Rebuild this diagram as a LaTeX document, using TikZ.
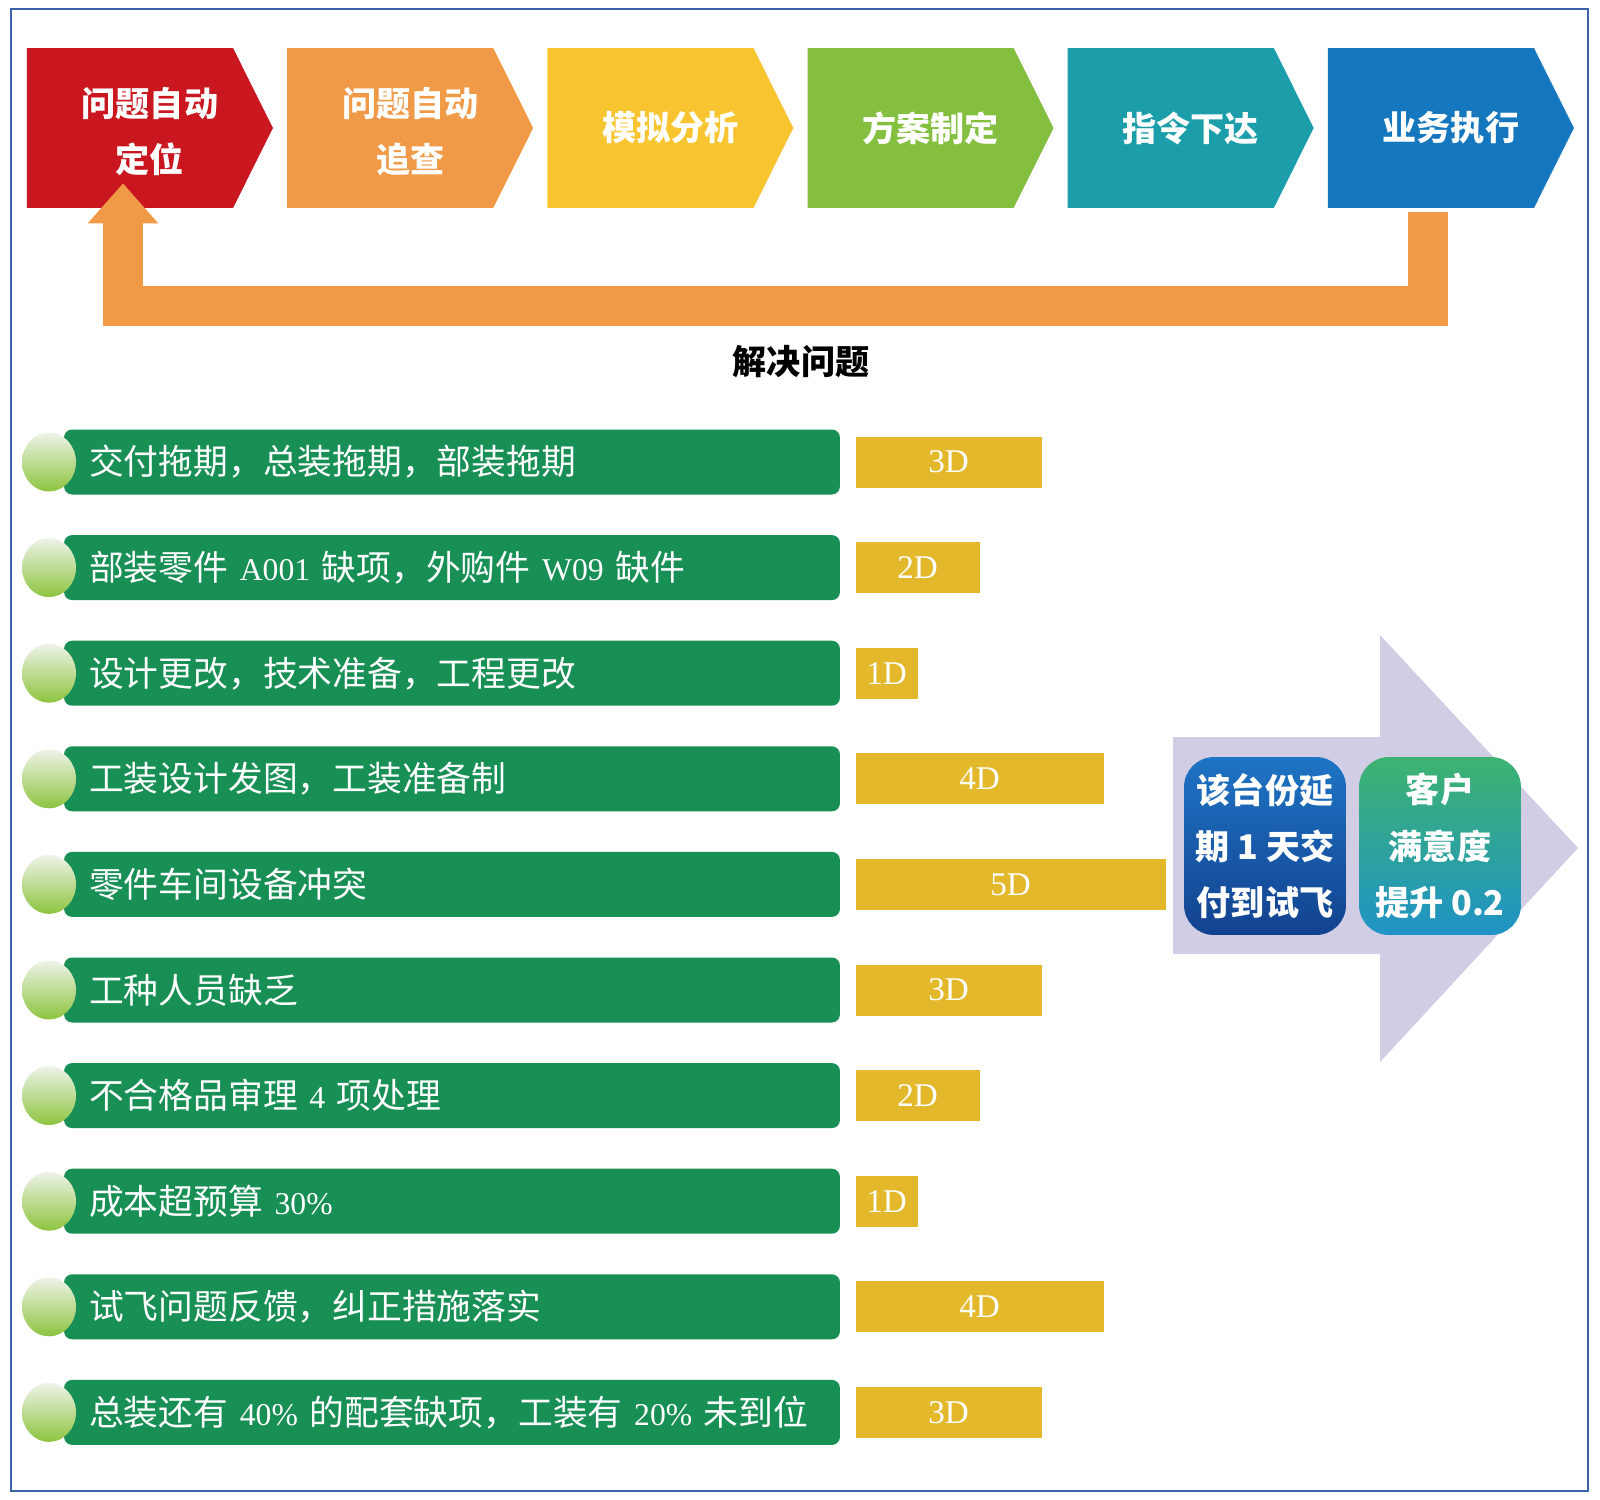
\documentclass[tikz,border=0pt]{standalone}
\usepackage{fontspec}
\newfontfamily\cjk{Noto Sans CJK SC}
\newfontfamily\latfont[Scale=0.82]{Liberation Serif}
\usetikzlibrary{positioning,shapes.symbols,shapes.geometric,arrows.meta}
\definecolor{stepRed}{HTML}{C9161F}
\definecolor{stepOrange}{HTML}{F09A48}
\definecolor{stepYellow}{HTML}{F8C530}
\definecolor{stepGreen}{HTML}{84BF40}
\definecolor{stepTeal}{HTML}{1C9EAA}
\definecolor{stepBlue}{HTML}{1577BE}
\definecolor{rowGreen}{HTML}{178F55}
\definecolor{dayGold}{HTML}{E3B92B}
\definecolor{lavender}{HTML}{D0CDE5}
\definecolor{frameBlue}{HTML}{3D62AA}
\definecolor{bulbTop}{HTML}{EEF3E8}
\definecolor{bulbBot}{HTML}{8DC43F}
\definecolor{delayTop}{HTML}{1E74C4}
\definecolor{delayBot}{HTML}{12428F}
\definecolor{gainTop}{HTML}{3DB370}
\definecolor{gainBot}{HTML}{1F93C6}
\newcommand{\lat}[1]{{\latfont\fontsize{22pt}{28pt}\selectfont #1}}

\begin{document}
\begin{tikzpicture}[
    x=0.02cm, y=-0.02cm,
    every node/.style={font=\cjk, inner sep=0pt},
    stage/.style={signal, signal to=east, signal pointer angle=127, fill=#1, draw=none,
      minimum width=4.92cm, minimum height=3.2cm},
    stagetext/.style={text=white, align=center, font={\cjk\bfseries\fontsize{19.4pt}{31.9pt}\selectfont}},
    bar/.style={fill=rowGreen, rounded corners=0.16cm, minimum width=15.52cm, minimum height=1.3cm,
      text width=14.52cm, inner xsep=0.5cm, align=left, text=white,
      font={\cjk\fontsize{19.8pt}{24pt}\selectfont}},
    bulb/.style={ellipse, minimum width=1.08cm, minimum height=1.18cm, top color=bulbTop, bottom color=bulbBot},
    days/.style={fill=dayGold, minimum height=1.02cm, text=white, font={\latfont\fontsize{23pt}{28pt}\selectfont}},
    result/.style={rounded corners=0.6cm, minimum width=3.24cm, minimum height=3.56cm, text=white, align=center,
      font={\cjk\bfseries\fontsize{19.4pt}{32pt}\selectfont}},
    loopback/.style={draw=stepOrange, line width=0.8cm, line join=miter, -{Triangle[length=0.8cm, width=1.36cm]}}
  ]
    \useasboundingbox (0,0) rectangle (1600,1499);
    \draw[frameBlue, line width=0.03cm] (11,9) rectangle (1588,1491);

    % process chain
    \node[stage=stepRed] (c1) at (130,128) {};
    \node[stage=stepOrange, right=0.27cm of c1] (c2) {};
    \node[stage=stepYellow, right=0.27cm of c2] (c3) {};
    \node[stage=stepGreen, right=0.27cm of c3] (c4) {};
    \node[stage=stepTeal, right=0.27cm of c4] (c5) {};
    \node[stage=stepBlue, right=0.27cm of c5] (c6) {};
    \node[stagetext, yshift=-0.08cm] (t1) at ([xshift=0.4cm]c1.center) {问题自动\\定位};
    \node[stagetext, yshift=-0.08cm] (t2) at ([xshift=0.4cm]c2.center) {问题自动\\追查};
    \node[stagetext] (t3) at ([xshift=0.4cm]c3.center) {模拟分析};
    \node[stagetext] (t4) at ([xshift=0.4cm]c4.center) {方案制定};
    \node[stagetext] (t5) at ([xshift=0.4cm]c5.center) {指令下达};
    \node[stagetext] (t6) at ([xshift=0.4cm]c6.center) {业务执行};

    \coordinate (rs) at ([xshift=-0.06cm, yshift=-0.08cm]c6.south);
    \coordinate (re) at ([xshift=-0.14cm, yshift=0.5cm]c1.south);
    \draw[loopback] (rs) |- (re |- 0,306) -- (re);
    \node[font={\cjk\bfseries\fontsize{19.4pt}{24pt}\selectfont}] (solve) at (801,362) {解决问题};

    % problem list
    \foreach \i/\txt/\d in {
        1/{交付拖期，总装拖期，部装拖期}/3,
        2/{部装零件 \lat{A001} 缺项，外购件 \lat{W09} 缺件}/2,
        3/{设计更改，技术准备，工程更改}/1,
        4/{工装设计发图，工装准备制}/4,
        5/{零件车间设备冲突}/5,
        6/{工种人员缺乏}/3,
        7/{不合格品审理 \lat{4} 项处理}/2,
        8/{成本超预算 \lat{30\%}}/1,
        9/{试飞问题反馈，纠正措施落实}/4,
        10/{总装还有 \lat{40\%} 的配套缺项，工装有 \lat{20\%} 未到位}/3} {
      \node[bar] (r\i) at (452, {462+(\i-1)*105.6}) {\txt};
      \node[bulb] (b\i) at (49, {462+(\i-1)*105.6}) {};
      \node[days, minimum width={\d*1.24cm}, right=0.3cm of r\i] (d\i) {\d D};
    }

    % outcome
    \fill[lavender] (1173,737) -- (1380,737) -- (1380,635) -- (1578,848)
      -- (1380,1062) -- (1380,954) -- (1173,954) -- cycle;
    \node[result, top color=delayTop, bottom color=delayBot] (k1) at (1265,846)
      {该台份延\\期 1 天交\\付到试飞};
    \node[result, top color=gainTop, bottom color=gainBot] (k2) at (1440,846)
      {客户\\满意度\\提升 0.2};
  \end{tikzpicture}
\end{document}
